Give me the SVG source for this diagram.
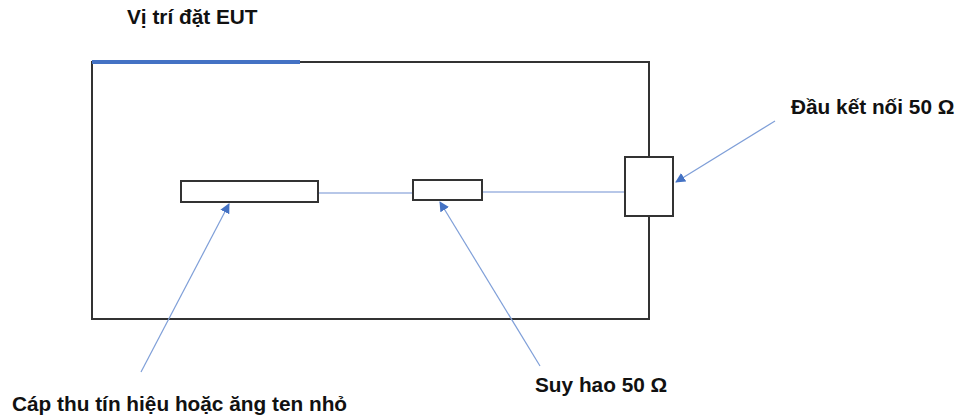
<svg xmlns="http://www.w3.org/2000/svg" width="958" height="419" viewBox="0 0 958 419">
<style>
.t{font-family:"Liberation Sans",Arial,sans-serif;font-weight:bold;font-size:20.8px;fill:#111}
.box{fill:#fff;stroke:#333;stroke-width:2}
.wire{stroke:#9fb4e0;stroke-width:1.3;fill:none}
.ptr{stroke:#7f9fd8;stroke-width:1.2;fill:none;marker-end:url(#ah)}
</style>
<defs>
<marker id="ah" viewBox="0 0 10 10" refX="9" refY="5" markerWidth="10" markerHeight="10" markerUnits="userSpaceOnUse" orient="auto">
<path d="M0,0 L10,5 L0,10 z" fill="#4472c4"/>
</marker>
</defs>
<g id="chamber">
<rect x="92" y="62" width="557" height="257" fill="none" stroke="#333" stroke-width="2"/>
<line x1="92" y1="62" x2="300" y2="62" stroke="#4472c4" stroke-width="4"/>
</g>
<g id="connectors">
<line class="wire" x1="318" y1="193" x2="413" y2="193"/>
<line class="wire" x1="482" y1="192" x2="625" y2="192"/>
<line class="ptr" x1="141" y1="372" x2="229" y2="204"/>
<line class="ptr" x1="540" y1="366" x2="440" y2="202"/>
<line class="ptr" x1="775" y1="121" x2="676" y2="182"/>
</g>
<g id="antenna"><rect class="box" x="181" y="181" width="137" height="21"/></g>
<g id="attenuator"><rect class="box" x="413" y="180" width="69" height="20"/></g>
<g id="connector50"><rect class="box" x="625" y="157" width="48" height="59"/></g>
<g id="labels">
<text class="t" x="127" y="24">Vị trí đặt EUT</text>
<text class="t" x="791" y="114">Đầu kết nối 50 Ω</text>
<text class="t" x="12" y="411">Cáp thu tín hiệu hoặc ăng ten nhỏ</text>
<text class="t" x="535" y="392">Suy hao 50 Ω</text>
</g>
</svg>
